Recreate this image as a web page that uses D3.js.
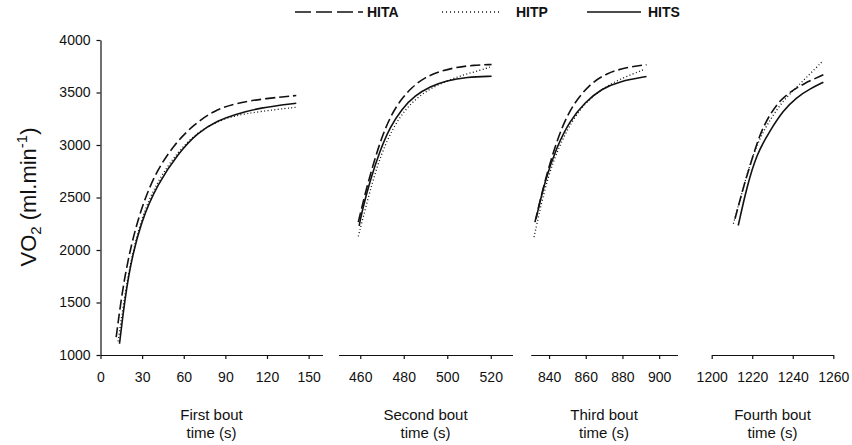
<!DOCTYPE html>
<html>
<head>
<meta charset="utf-8">
<script src="https://cdn.jsdelivr.net/npm/d3@7"></script>
<style>
  body { margin: 0; background: #fff; }
  svg { font-family: Arial, "Liberation Sans", sans-serif; }
  .axis path, .axis line { stroke: #111; stroke-width: 1.2; }
  .axis text { font-size: 14px; fill: #111; }
</style>
</head>
<body>
<svg id="chart" width="852" height="445"></svg>
<script>
// Data: [time (s), VO2 (ml.min-1)] per bout
const boutLabels = ["First bout", "Second bout", "Third bout", "Fourth bout"];
const boutDomains = [[0, 160], [450, 530], [830, 910], [1200, 1260]];
const boutTicks = [
    [0, 30, 60, 90, 120, 150],
    [460, 480, 500, 520],
    [840, 860, 880, 900],
    [1200, 1220, 1240, 1260]
];
const yTicks = [1000, 1500, 2000, 2500, 3000, 3500, 4000];

const hitaPoints = [
    [[11.3, 1170], [17.3, 1773], [26.9, 2312], [38.9, 2726], [53.4, 3011], [67.8, 3202], [82.2, 3329], [96.7, 3398], [120, 3445], [141.1, 3471]],
    [[459.1, 2265], [462.2, 2535], [466.0, 2821], [469.9, 3074], [473.7, 3265], [478.3, 3424], [483.7, 3550], [489.8, 3646], [496.7, 3703], [504.3, 3741], [512.0, 3760], [520.4, 3767]],
    [[832.3, 2265], [836.9, 2598], [841.4, 2884], [846.9, 3170], [853.2, 3392], [862.3, 3583], [871.4, 3684], [882.2, 3741], [893.1, 3764]],
    [[1211.5, 2297], [1215.6, 2598], [1219.7, 2852], [1223.8, 3107], [1228.8, 3297], [1233.7, 3424], [1238.6, 3503], [1245.2, 3583], [1255.1, 3669]]
];
const hitpPoints = [
    [[12.7, 1130], [19.7, 1780], [29.0, 2300], [41.0, 2660], [55.7, 2935], [70.0, 3125], [84.6, 3225], [96.6, 3280], [114.7, 3320], [141.1, 3360]],
    [[459.1, 2129], [463.7, 2503], [467.6, 2789], [472.2, 3043], [477.5, 3250], [483.7, 3408], [490.6, 3519], [498.2, 3598], [507.4, 3669], [515.1, 3710], [520.4, 3748]],
    [[831.8, 2122], [836.9, 2535], [842.3, 2852], [848.7, 3107], [856.0, 3329], [866.0, 3503], [876.9, 3614], [885.9, 3678], [891.3, 3716]],
    [[1210.7, 2250], [1214.8, 2535], [1218.9, 2821], [1223.8, 3074], [1229.6, 3265], [1235.3, 3424], [1241.9, 3550], [1248.5, 3678], [1254.3, 3789]]
];
const hitsPoints = [
    [[13.7, 1107], [19.7, 1773], [29.3, 2281], [41.3, 2630], [55.7, 2916], [70.2, 3122], [84.6, 3234], [96.6, 3290], [114.7, 3355], [141.1, 3398]],
    [[459.5, 2230], [460.7, 2360], [464.5, 2662], [469.1, 2948], [473.7, 3170], [479.1, 3345], [485.2, 3471], [492.1, 3557], [499.7, 3614], [508.9, 3646], [520.4, 3655]],
    [[832.9, 2297], [837.8, 2662], [844.1, 2979], [851.4, 3233], [859.6, 3408], [868.6, 3535], [878.6, 3608], [893.1, 3652]],
    [[1213.1, 2233], [1217.3, 2598], [1222.2, 2916], [1228.8, 3138], [1235.3, 3329], [1241.9, 3455], [1248.5, 3535], [1255.1, 3598]]
];

const seriesNames = ["HITA", "HITP", "HITS"];

// Styles --------------------------------------------------
const seriesStyle = {
    HITA: { dash: "10,4", width: 1.6 },
    HITP: { dash: "1,2.4", width: 1.3 },
    HITS: { dash: null, width: 1.6 }
};

const svg = d3.select("#chart");
const ink = "#111";

// pixel extents of each bout panel
const panelRanges = [[100.5, 322.5], [338.5, 512.5], [530.7, 677.5], [711.7, 833.3]];

let y = d3.scaleLinear().domain([1000, 4000]).range([355, 40]);

// y axis
svg.append("g")
    .attr("class", "axis")
    .attr("transform", "translate(100.5,0)")
    .call(d3.axisLeft(y).tickValues(yTicks).tickFormat(d3.format("d"))
        .tickSize(4).tickSizeOuter(0).tickPadding(6));

// y title with subscript and superscript
let yTitle = svg.append("text")
    .attr("transform", "translate(36,197) rotate(-90)")
    .attr("text-anchor", "middle")
    .attr("font-size", "22px")
    .attr("fill", ink);
yTitle.append("tspan").text("VO");
yTitle.append("tspan").attr("font-size", "15px").attr("dy", "5").text("2");
yTitle.append("tspan").attr("dy", "-5").text(" (ml.min");
yTitle.append("tspan").attr("font-size", "15px").attr("dy", "-9").text("-1");
yTitle.append("tspan").attr("dy", "9").text(")");

const allSeries = { HITA: hitaPoints, HITP: hitpPoints, HITS: hitsPoints };

boutLabels.forEach((label, i) => {
    let x = d3.scaleLinear().domain(boutDomains[i]).range(panelRanges[i]);

    svg.append("g")
        .attr("class", "axis")
        .attr("transform", "translate(0,355)")
        .call(d3.axisBottom(x).tickValues(boutTicks[i]).tickFormat(d3.format("d"))
            .tickSize(4).tickSizeOuter(0).tickPadding(13));

    let cx = (panelRanges[i][0] + panelRanges[i][1]) / 2;
    svg.append("text")
        .attr("x", cx).attr("y", 420)
        .attr("text-anchor", "middle")
        .attr("font-size", "15px")
        .attr("fill", ink)
        .text(label);
    svg.append("text")
        .attr("x", cx).attr("y", 438)
        .attr("text-anchor", "middle")
        .attr("font-size", "15px")
        .attr("fill", ink)
        .text("time (s)");

    let line = d3.line()
        .x(d => x(d[0]))
        .y(d => y(d[1]))
        .curve(d3.curveBasis);

    seriesNames.forEach(name => {
        const st = seriesStyle[name];
        svg.append("path")
            .datum(allSeries[name][i])
            .attr("d", line)
            .attr("fill", "none")
            .attr("stroke", ink)
            .attr("stroke-width", st.width)
            .attr("stroke-dasharray", st.dash);
    });
});

// Legend --------------------------------------------------
const legendItems = [
    { name: "HITA", x1: 295, x2: 363, tx: 367, dash: "16,5" },
    { name: "HITP", x1: 442, x2: 501, tx: 516, dash: "1,3" },
    { name: "HITS", x1: 587, x2: 641, tx: 648, dash: null }
];
let legend = svg.append("g");
legendItems.forEach(d => {
    legend.append("line")
        .attr("x1", d.x1).attr("x2", d.x2)
        .attr("y1", 12).attr("y2", 12)
        .attr("stroke", ink)
        .attr("stroke-width", 1.6)
        .attr("stroke-dasharray", d.dash);
    legend.append("text")
        .attr("x", d.tx).attr("y", 17)
        .attr("font-size", "14px")
        .attr("font-weight", "bold")
        .attr("fill", ink)
        .text(d.name);
});
</script>
</body>
</html>
